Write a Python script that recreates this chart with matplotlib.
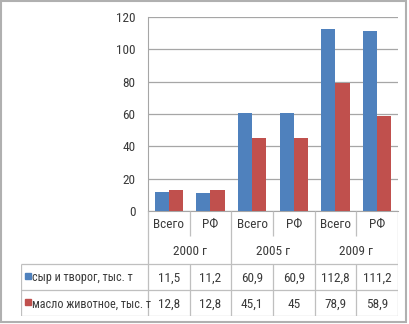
import matplotlib
matplotlib.use("Agg")
import matplotlib.pyplot as plt
from matplotlib.patches import Rectangle

plt.rcParams["font.family"] = ["Roboto Condensed", "Liberation Sans Narrow",
                               "Liberation Sans", "DejaVu Sans"]

CATEGORIES = ["Всего", "РФ", "Всего", "РФ", "Всего", "РФ"]
YEARS = ["2000 г", "2005 г", "2009 г"]
SERIES_NAMES = ["сыр и творог, тыс. т", "масло животное, тыс. т"]
CHEESE = [11.5, 11.2, 60.9, 60.9, 112.8, 111.2]
BUTTER = [12.8, 12.8, 45.1, 45, 78.9, 58.9]
Y_TICKS = [0, 20, 40, 60, 80, 100, 120]

COLORS = ["#4F81BD", "#C0504D"]
GRID = "#A6A6A6"
TABLE_LINE = "#BFBFBF"
TEXT = "#3A3A3A"
FS = 9.5

W, H = 410, 324
fig = plt.figure(figsize=(W / 100, H / 100), dpi=100)

# outer frame of the chart object
fig.patches.append(Rectangle((0.5 / W, 2 / H), (W - 4) / W, (H - 3) / H,
                             transform=fig.transFigure, fill=False,
                             edgecolor="#B0B0B0", linewidth=1.5))

# plot area in pixels: x 148..398, y 17..211 (from top)
px_left, px_right, px_top, px_base = 148, 398, 17, 211
ax = fig.add_axes([px_left / W, (H - px_base) / H,
                   (px_right - px_left) / W, (px_base - px_top) / H])

n = len(CATEGORIES)
bar_w = 0.337
centers = [i + 0.5 for i in range(n)]
ax.bar([c - bar_w / 2 for c in centers], CHEESE, width=bar_w, color=COLORS[0], zorder=3)
ax.bar([c + bar_w / 2 for c in centers], BUTTER, width=bar_w, color=COLORS[1], zorder=3)

ax.set_xlim(0, n)
ax.set_ylim(0, 120)
ax.set_yticks(Y_TICKS)
ax.set_yticklabels([str(t) for t in Y_TICKS], fontsize=FS, color=TEXT)
ax.set_xticks([])
ax.tick_params(axis="y", length=0, pad=9)
ax.grid(axis="y", color=GRID, linewidth=0.9, zorder=0)
for side in ["top", "right", "bottom"]:
    ax.spines[side].set_visible(False)
ax.spines["left"].set_color(GRID)
ax.spines["bottom"].set_visible(True)
ax.spines["bottom"].set_color(GRID)

# data table under the plot: rows of 26 px, left column 21..148 px
tab_left, tab_bottom = 21, 316
unit_px = (px_right - px_left) / n
left_col = (px_left - tab_left) / unit_px
tx = fig.add_axes([tab_left / W, (H - tab_bottom) / H,
                   (px_right - tab_left) / W, (tab_bottom - px_base) / H])
tx.set_xlim(-left_col, n)
tx.set_ylim(4, 0)
tx.axis("off")

lw = 0.9
line_kw = dict(color=TABLE_LINE, linewidth=lw, solid_capstyle="butt")
# verticals
for x in range(0, n + 1, 2):
    tx.plot([x, x], [0, 4], **line_kw)
for x in range(1, n, 2):
    tx.plot([x, x], [0, 0.95], **line_kw)
    tx.plot([x, x], [2, 4], **line_kw)
tx.plot([-left_col, -left_col], [2, 4], **line_kw)
# horizontals
for y in [2, 3, 4]:
    tx.plot([-left_col, n], [y, y], **line_kw)

for c, name in zip(centers, CATEGORIES):
    tx.text(c, 0.52, name, ha="center", va="center", fontsize=FS, color=TEXT)
for i, year in enumerate(YEARS):
    tx.text(2 * i + 1, 1.55, year, ha="center", va="center", fontsize=FS, color=TEXT)

for row, (name, vals) in enumerate(zip(SERIES_NAMES, [CHEESE, BUTTER])):
    y = 2.55 + row
    for c, v in zip(centers, vals):
        tx.text(c, y, f"{v:g}".replace(".", ","), ha="center", va="center",
                fontsize=FS, color=TEXT)
    tx.plot([-left_col + 6.5 / unit_px], [y - 0.08], marker="s", markersize=5,
            color=COLORS[row], linestyle="none")
    tx.text(-left_col + 11 / unit_px, y, name, ha="left", va="center",
            fontsize=8.7, color=TEXT)

fig.savefig("out.png", dpi=100)
